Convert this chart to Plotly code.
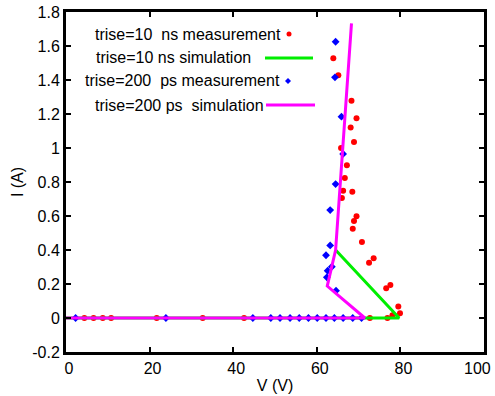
import plotly.graph_objects as go

# ---- data ----
red_v = [4.4, 6.6, 8.8, 10.8, 21.7, 32.7, 42.6, 72.7, 76.9, 78.1, 79.5, 79.9,
         77.6, 76.6, 73.6, 72.5, 70.8, 69.5, 68.9, 68.6, 68.5, 66.0, 66.3, 66.7,
         67.2, 65.8, 68.9, 68.1, 69.5, 68.3, 65.15, 63.95]
red_i = [0, 0, 0, 0, 0, 0, 0, 0, 0, 0.016, 0.068, 0.028,
         0.194, 0.175, 0.351, 0.325, 0.447, 0.598, 0.57, 0.525, 0.743, 0.706, 0.749, 0.824,
         0.898, 1.0, 1.035, 1.12, 1.175, 1.278, 1.428, 1.528]

blue_v = [2.3, 23.9, 44.7, 49.0, 51.2, 53.6, 55.8, 58.0, 60.1, 62.2, 64.2, 66.3, 68.6, 70.7,
          64.6, 62.4, 62.6, 63.6, 62.2, 63.2, 63.2, 64.5, 66.3, 65.9, 64.35, 64.5]
blue_i = [0] * 14 + [0.161, 0.239, 0.278, 0.302, 0.369, 0.427, 0.635, 0.788, 0.965,
                     1.184, 1.416, 1.625]

green_v = [0, 79.7, 64.5]
green_i = [0, 0, 0.40]

mag_v = [0, 71.5, 62.5, 64.5, 68.3]
mag_i = [0, 0, 0.188, 0.40, 1.733]

x_ticks = [0, 20, 40, 60, 80, 100]
x_ticktext = ["0", "20", "40", "60", "80", ""]
x_last_label = "100"   # drawn as an annotation so it fits inside the window
y_ticks = [-0.2, 0, 0.2, 0.4, 0.6, 0.8, 1, 1.2, 1.4, 1.6, 1.8]
y_ticktext = ["-0.2", "0", "0.2", "0.4", "0.6", "0.8", "1", "1.2", "1.4", "1.6", "1.8"]

legend_labels = ["trise=10\u00a0 ns measurement", "trise=10 ns simulation",
                 "trise=200\u00a0 ps measurement", "trise=200 ps\u00a0 simulation"]

RED, GREEN, BLUE, MAG = "#ff0000", "#00ee00", "#0000ff", "#ff00ff"
FONT = "Liberation Sans, Arial, sans-serif"

fig = go.Figure()
fig.add_trace(go.Scatter(x=red_v, y=red_i, mode="markers",
                         marker=dict(symbol="circle", size=6, color=RED)))
fig.add_trace(go.Scatter(x=green_v, y=green_i, mode="lines",
                         line=dict(color=GREEN, width=3)))
fig.add_trace(go.Scatter(x=blue_v, y=blue_i, mode="markers",
                         marker=dict(symbol="diamond", size=6, color=BLUE)))
fig.add_trace(go.Scatter(x=mag_v, y=mag_i, mode="lines",
                         line=dict(color=MAG, width=3)))

# ---- gnuplot-style key: text right aligned, sample to its right ----
W, H = 418.0, 340.0  # plot area in px (window coords: x 66..484, y 12..352)
def px(xp):
    return (xp - 66) / W
def py(yp):
    return (352 - yp) / H

rows_y = [34, 58, 81, 105]
text_right = [283, 253, 282, 266]
annotations = []
for lab, yy, xr in zip(legend_labels, rows_y, text_right):
    annotations.append(dict(text=lab, x=px(xr), y=py(yy), xref="paper", yref="paper",
                            xanchor="right", yanchor="middle", showarrow=False,
                            font=dict(family=FONT, size=16, color="black")))
annotations.append(dict(text=x_last_label, x=1, y=0, xref="paper", yref="paper",
                        xanchor="right", yanchor="middle", xshift=9, yshift=-16,
                        showarrow=False, font=dict(family=FONT, size=16, color="black")))

shapes = [
    dict(type="circle", xref="paper", yref="paper",
         x0=px(286.5), x1=px(291.5), y0=py(36.5), y1=py(31.5),
         fillcolor=RED, line=dict(width=0)),
    dict(type="line", xref="paper", yref="paper", x0=px(265), x1=px(313),
         y0=py(58), y1=py(58), line=dict(color=GREEN, width=3)),
    dict(type="path", xref="paper", yref="paper",
         path="M {0},{1} L {2},{3} L {0},{4} L {5},{3} Z".format(
             px(288), py(78), px(291), py(81), py(84), px(285)),
         fillcolor=BLUE, line=dict(width=0)),
    dict(type="line", xref="paper", yref="paper", x0=px(266), x1=px(315),
         y0=py(105), y1=py(105), line=dict(color=MAG, width=3)),
]

fig.update_layout(
    width=495, height=396,
    margin=dict(l=66, r=11, t=12, b=44, autoexpand=False),
    paper_bgcolor="white", plot_bgcolor="white",
    showlegend=False,
    font=dict(family=FONT, size=16, color="black"),
    annotations=annotations,
    shapes=shapes,
)
fig.update_xaxes(range=[0, 100], tickvals=x_ticks, ticktext=x_ticktext, ticks="inside",
                 ticklen=5, tickwidth=2, ticklabeloverflow="allow", ticklabelshift=3,
                 tickcolor="black", showline=True, linecolor="black", linewidth=3,
                 mirror="allticks", showgrid=False, zeroline=False, automargin=False,
                 title=dict(text="V (V)", standoff=4, font=dict(size=16)))
fig.update_yaxes(range=[-0.2, 1.8], tickvals=y_ticks, ticktext=y_ticktext, ticks="inside",
                 ticklen=5, tickwidth=2, ticklabeloverflow="allow", tickcolor="black",
                 showline=True, linecolor="black", linewidth=3, mirror="allticks",
                 showgrid=False, zeroline=False, automargin=False,
                 title=dict(text="I (A)", standoff=5, font=dict(size=16)))

# remove the default 8px body margin so the figure fills the window exactly
fig.write_html("out.html", config={"displayModeBar": False},
               post_script="document.body.style.margin='0';")
